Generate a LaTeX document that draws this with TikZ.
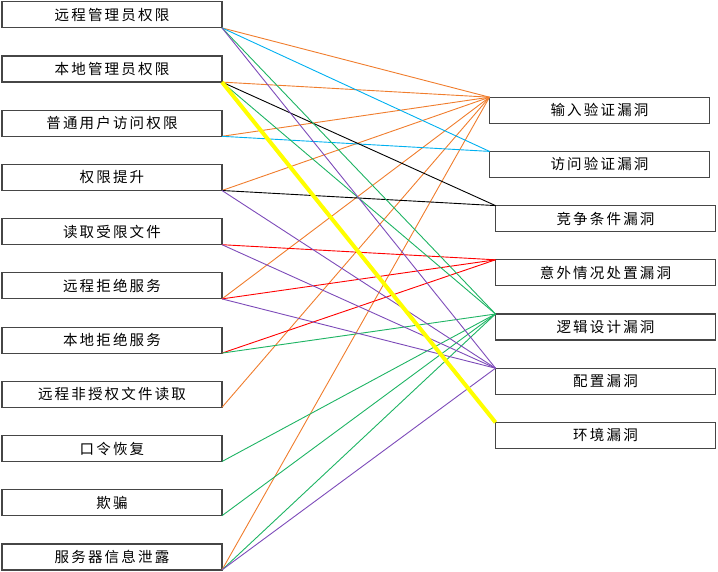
\documentclass[tikz,border=0pt]{standalone}
\usepackage{fontspec}
\newfontfamily\cjk[LetterSpace=15]{Noto Sans CJK SC}
\definecolor{boxgray}{RGB}{70,70,70}
\definecolor{vorange}{RGB}{240,125,45}
\definecolor{vcyan}{RGB}{0,176,240}
\definecolor{vgreen}{RGB}{30,180,100}
\definecolor{vpurple}{RGB}{125,75,185}
\definecolor{vred}{RGB}{255,0,0}
\definecolor{vyellow}{RGB}{255,255,0}
\begin{document}
\begin{tikzpicture}[x=1pt,y=-1pt,
    box/.style={draw=boxgray, line width=1.2pt, minimum width=220pt, minimum height=26pt,
                inner sep=0pt, outer sep=0pt, font=\cjk\fontsize{14.5}{17}\selectfont},
    link/.style={line width=0.9pt}]
    \useasboundingbox (0,0) rectangle (718,572);

    % Draw the permission boxes on the left
    \node[box] (L0) at (112,14.9) {远程管理员权限};
    \node[box] (L1) at (112,69.1) {本地管理员权限};
    \node[box] (L2) at (112,123.3) {普通用户访问权限};
    \node[box] (L3) at (112,177.5) {权限提升};
    \node[box] (L4) at (112,231.7) {读取受限文件};
    \node[box] (L5) at (112,285.9) {远程拒绝服务};
    \node[box] (L6) at (112,340.1) {本地拒绝服务};
    \node[box] (L7) at (112,394.3) {远程非授权文件读取};
    \node[box] (L8) at (112,448.5) {口令恢复};
    \node[box] (L9) at (112,502.7) {欺骗};
    \node[box] (L10) at (112,556.9) {服务器信息泄露};

    % Draw the vulnerability boxes on the right
    \node[box] (R0) at (599.5,110.2) {输入验证漏洞};
    \node[box] (R1) at (599.5,164.4) {访问验证漏洞};
    \node[box] (R2) at (605.5,218.6) {竞争条件漏洞};
    \node[box] (R3) at (605.5,272.8) {意外情况处置漏洞};
    \node[box] (R4) at (605.5,327.0) {逻辑设计漏洞};
    \node[box] (R5) at (605.5,381.2) {配置漏洞};
    \node[box] (R6) at (605.5,435.4) {环境漏洞};

    % Links to input validation
    \draw[link, vorange] (L0.south east) -- (R0.north west);
    \draw[link, vorange] (L1.south east) -- (R0.north west);
    \draw[link, vorange] (L2.south east) -- (R0.north west);
    \draw[link, vorange] (L3.south east) -- (R0.north west);
    \draw[link, vorange] (L5.south east) -- (R0.north west);
    \draw[link, vorange] (L7.south east) -- (R0.north west);
    \draw[link, vorange] (L10.south east) -- (R0.north west);

    % Links to access validation
    \draw[link, vcyan] (L0.south east) -- (R1.north west);
    \draw[link, vcyan] (L2.south east) -- (R1.north west);

    % Links to race condition
    \draw[link, black] (L1.south east) -- (R2.north west);
    \draw[link, black] (L3.south east) -- (R2.north west);

    % Links to exception handling
    \draw[link, vred] (L4.south east) -- (R3.north west);
    \draw[link, vred] (L5.south east) -- (R3.north west);
    \draw[link, vred] (L6.south east) -- (R3.north west);

    % Links to logic design
    \draw[link, vgreen] (L0.south east) -- (R4.north west);
    \draw[link, vgreen] (L1.south east) -- (R4.north west);
    \draw[link, vgreen] (L6.south east) -- (R4.north west);
    \draw[link, vgreen] (L8.south east) -- (R4.north west);
    \draw[link, vgreen] (L9.south east) -- (R4.north west);
    \draw[link, vgreen] (L10.south east) -- (R4.north west);

    % Links to configuration
    \draw[link, vpurple] (L0.south east) -- (R5.north west);
    \draw[link, vpurple] (L3.south east) -- (R5.north west);
    \draw[link, vpurple] (L4.south east) -- (R5.north west);
    \draw[link, vpurple] (L5.south east) -- (R5.north west);
    \draw[link, vpurple] (L10.south east) -- (R5.north west);

    % Link to environment
    \draw[line width=4pt, vyellow] (L1.south east) -- (R6.north west);

\end{tikzpicture}
\end{document}
